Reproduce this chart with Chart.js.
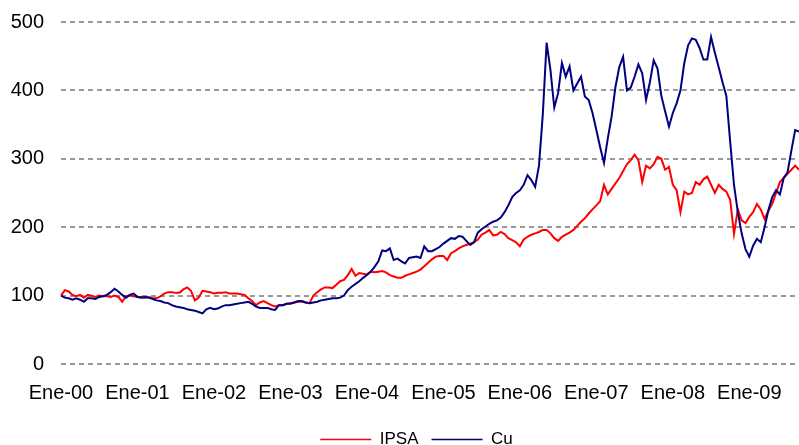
<!DOCTYPE html>
<html>
<head>
<meta charset="utf-8">
<script src="https://cdn.jsdelivr.net/npm/chart.js@4/dist/chart.umd.min.js"></script>
<style>
  html, body { margin: 0; padding: 0; background: #fff; }
  canvas { display: block; }
</style>
</head>
<body>
<canvas id="chart" width="799" height="445"></canvas>
<script>
// Year labels shown on the x axis (one every POINTS_PER_LABEL points)
const yearLabels = ['Ene-00', 'Ene-01', 'Ene-02', 'Ene-03', 'Ene-04', 'Ene-05', 'Ene-06', 'Ene-07', 'Ene-08', 'Ene-09'];
const POINTS_PER_LABEL = 20;

// IPSA index (base 100)
const ipsa = [
  100, 108, 106, 101, 99, 101, 97, 101, 100, 98, 100, 99, 99, 98, 100, 98, 91, 99, 100, 99,
  98, 98, 97, 98, 96, 96, 99, 103, 105, 105, 104, 104, 109, 112, 107, 93, 97, 107, 106, 105,
  103, 104, 104, 105, 103, 103, 103, 102, 101, 96, 92, 86, 90, 92, 89, 86, 84, 86, 86, 88,
  89, 90, 91, 91, 90, 89, 100, 105, 109, 112, 112, 111, 116, 121, 123, 130, 139, 129, 133, 132,
  131, 135, 134, 135, 136, 134, 130, 128, 126, 126, 129, 131, 133, 135, 138, 143, 148, 153, 157, 158,
  158, 152, 162, 165, 169, 172, 174, 176, 178, 182, 189, 192, 196, 188, 189, 193, 190, 184, 181, 178,
  172, 182, 186, 189, 191, 193, 196, 196, 191, 184, 180, 186, 189, 192, 196, 202, 208, 213, 220, 226,
  232, 238, 262, 248, 256, 264, 272, 282, 292, 298, 306, 298, 266, 290, 286, 292, 303, 300, 284, 288,
  262, 254, 222, 252, 248, 250, 266, 262, 270, 274, 262, 250, 262, 256, 252, 240, 190, 226, 210, 206,
  215, 222, 234, 226, 212, 224, 234, 250, 266, 272, 278, 284, 290, 284
];

// Copper price (base 100)
const cu = [
  100, 97, 96, 94, 96, 94, 91, 96, 96, 95, 98, 99, 101, 105, 110, 106, 101, 97, 101, 103,
  98, 97, 98, 97, 95, 93, 92, 90, 89, 86, 84, 83, 82, 80, 79, 78, 76, 74, 80, 82,
  80, 81, 84, 86, 86, 87, 88, 89, 90, 91, 88, 84, 82, 82, 82, 80, 79, 86, 86, 88,
  88, 90, 92, 92, 90, 89, 90, 91, 93, 94, 95, 96, 96, 97, 100, 108, 113, 117, 121, 126,
  130, 135, 142, 150, 166, 165, 169, 152, 154, 150, 147, 155, 156, 157, 155, 172, 165, 165, 168, 171,
  176, 180, 184, 183, 187, 186, 180, 174, 178, 192, 197, 201, 205, 208, 210, 214, 222, 232, 244, 250,
  254, 262, 276, 269, 259, 290, 365, 470, 430, 375, 396, 440, 420, 435, 400, 410, 420, 391, 386, 367,
  342, 317, 294, 330, 362, 405, 434, 449, 400, 404, 420, 438, 425, 386, 412, 444, 432, 392, 369, 347,
  367, 381, 400, 440, 466, 476, 474, 462, 445, 445, 478, 455, 434, 412, 392, 325, 262, 222, 191, 168,
  157, 173, 183, 178, 200, 225, 244, 254, 248, 272, 280, 312, 342, 340
];

const labels = ipsa.map((v, i) => (i % POINTS_PER_LABEL === 0 ? yearLabels[i / POINTS_PER_LABEL] : ''));

const FONT = 'Arial, "Liberation Sans", sans-serif';

// nudge the legend a bit to the right, as in the original
const legendShift = {
  id: 'legendShift',
  afterLayout(chart) {
    if (chart.legend) {
      chart.legend.left += 12;
      chart.legend.right += 12;
    }
  }
};

new Chart(document.getElementById('chart'), {
  type: 'line',
  data: {
    labels: labels,
    datasets: [
      {
        label: 'IPSA',
        data: ipsa,
        borderColor: '#FF0000',
        backgroundColor: '#FF0000',
        borderWidth: 2,
        pointRadius: 0,
        tension: 0,
        order: 1
      },
      {
        label: 'Cu',
        data: cu,
        borderColor: '#000080',
        backgroundColor: '#000080',
        borderWidth: 2,
        pointRadius: 0,
        tension: 0,
        order: 0
      }
    ]
  },
  plugins: [legendShift],
  options: {
    responsive: false,
    animation: false,
    devicePixelRatio: 1,
    layout: {
      padding: { left: 10, right: 0, top: 22, bottom: -13 }
    },
    plugins: {
      tooltip: { enabled: false },
      legend: {
        position: 'bottom',
        labels: {
          color: '#000',
          font: { family: FONT, size: 17 },
          usePointStyle: true,
          pointStyleWidth: 51,
          padding: 13,
          sort: (a, b) => a.datasetIndex - b.datasetIndex,
          generateLabels: (chart) => {
            const items = Chart.defaults.plugins.legend.labels.generateLabels(chart);
            items.forEach(it => { it.lineWidth = 1.5; it.pointStyle = 'line'; });
            return items;
          }
        }
      }
    },
    scales: {
      x: {
        grid: { display: false },
        border: { display: false },
        ticks: {
          autoSkip: false,
          maxRotation: 0,
          minRotation: 0,
          padding: 9,
          color: '#000',
          font: { family: FONT, size: 20 }
        },
        afterFit: (scale) => {
          scale.paddingLeft = 0;
          scale.paddingRight = 0;
          scale.height += 4;
        }
      },
      y: {
        min: 0,
        max: 500,
        ticks: {
          stepSize: 100,
          padding: 17,
          color: '#000',
          font: { family: FONT, size: 20 }
        },
        grid: {
          color: '#999999',
          lineWidth: 2,
          drawTicks: false
        },
        border: { display: false, dash: [5, 4] },
        afterFit: (scale) => {
          scale.width = 51;
          scale.paddingTop = 0;
          scale.paddingBottom = 0;
        }
      }
    }
  }
});
</script>
</body>
</html>
